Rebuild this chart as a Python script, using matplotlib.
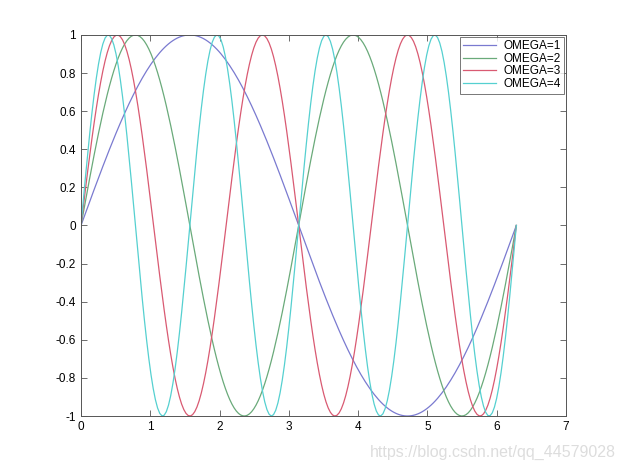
import numpy as np
import matplotlib
matplotlib.use("Agg")
import matplotlib.pyplot as plt

plt.rcParams['font.family'] = ['Liberation Sans', 'DejaVu Sans']

omegas = [1, 2, 3, 4]
labels = ["OMEGA=1", "OMEGA=2", "OMEGA=3", "OMEGA=4"]
colors = ["#7a7ad0", "#6aaa7a", "#d95a72", "#55d0d0"]
xticks = [0, 1, 2, 3, 4, 5, 6, 7]
yticks = [-1, -0.8, -0.6, -0.4, -0.2, 0, 0.2, 0.4, 0.6, 0.8, 1]
ytick_labels = ["-1", "-0.8", "-0.6", "-0.4", "-0.2", "0", "0.2", "0.4", "0.6", "0.8", "1"]

x = np.linspace(0, 2 * np.pi, 200)

fig = plt.figure(figsize=(6.25, 4.69), dpi=100)
ax = fig.add_axes([0.1296, 0.113, 0.776, 0.8125])
for w, lab, c in zip(omegas, labels, colors):
    ax.plot(x, np.sin(w * x), color=c, lw=0.9, label=lab)

ax.set_xlim(0, 7)
ax.set_ylim(-1, 1)
ax.set_xticks(xticks)
ax.set_yticks(yticks)
ax.set_yticklabels(ytick_labels)
ax.tick_params(direction="in", top=True, right=True, labelsize=8.5, length=4, width=0.6, color="#555555")
for s in ax.spines.values():
    s.set_linewidth(0.7)
    s.set_color("#555555")

leg = ax.legend(loc="upper right", fontsize=8.5, frameon=True, fancybox=False,
                edgecolor="#555555", borderpad=0.3, labelspacing=0.05,
                handlelength=2.8, handletextpad=0.6, borderaxespad=0.15)
leg.get_frame().set_linewidth(0.7)

fig.text(0.985, 0.035, "https://blog.csdn.net/qq_44579028", ha="right", va="center",
         fontsize=11.5, color="#dddddd")

fig.savefig("out.png", dpi=100)
